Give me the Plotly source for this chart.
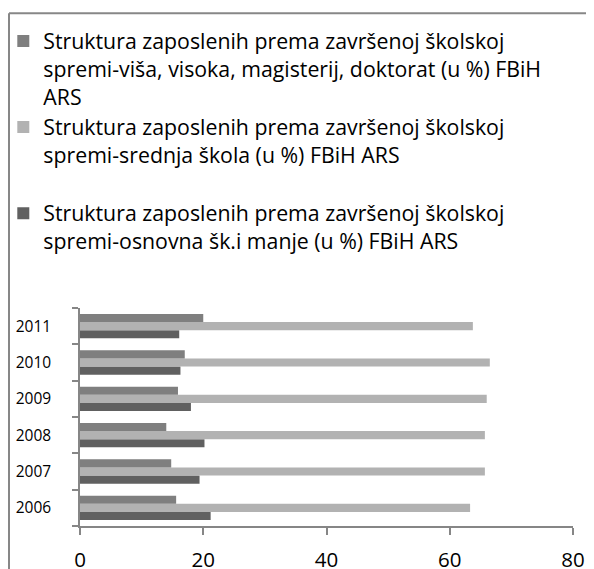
import plotly.graph_objects as go

# Data (share of employees, %)
years = ["2006", "2007", "2008", "2009", "2010", "2011"]
visoka = [15.6, 14.8, 14.0, 15.9, 17.0, 20.0]
srednja = [63.3, 65.7, 65.7, 66.0, 66.5, 63.75]
osnovna = [21.2, 19.4, 20.2, 18.0, 16.3, 16.1]

series_names = [
    "Struktura zaposlenih prema završenoj školskoj<br>spremi-viša, visoka, magisterij, doktorat (u %) FBiH<br>ARS",
    "Struktura zaposlenih prema završenoj školskoj<br>spremi-srednja škola (u %) FBiH ARS<br> ",
    "Struktura zaposlenih prema završenoj školskoj<br>spremi-osnovna šk.i manje (u %) FBiH ARS<br> ",
]
x_ticks = [0, 20, 40, 60, 80]

colors = ["#7f7f7f", "#b2b2b2", "#606060"]
values = [visoka, srednja, osnovna]

fig = go.Figure()

# add in reverse so the first series sits on top of each group
for i in [2, 1, 0]:
    fig.add_trace(go.Bar(
        y=years,
        x=values[i],
        orientation="h",
        name=series_names[i],
        legendgroup=f"g{i}",
        legendrank=i + 1,
        marker=dict(color=colors[i], line=dict(width=0)),
    ))

# the page body adds an 8px margin, so layout is shifted up/left by 8
W, H = 594, 569
ml, mr, mt, mb = 72, 29, 299.5, 51
pw = W - ml - mr
ph = H - mt - mb

fig.update_layout(
    width=W,
    height=H,
    margin=dict(l=ml, r=mr, t=mt, b=mb, pad=0, autoexpand=False),
    barmode="group",
    bargap=0.33,
    bargroupgap=0,
    paper_bgcolor="white",
    plot_bgcolor="white",
    font=dict(family="Open Sans", color="black"),
    legend=dict(
        xref="paper", yref="paper",
        x=(-4.7 - ml) / pw, y=(H - mb - 11.5) / ph,
        xanchor="left", yanchor="top",
        traceorder="grouped",
        tracegroupgap=0,
        valign="top",
        maxheight=600,
        font=dict(size=21.3, family="Open Sans", color="black"),
        bgcolor="rgba(0,0,0,0)",
    ),
    xaxis=dict(
        range=[0, 80],
        tickvals=x_ticks,
        showgrid=False,
        zeroline=False,
        showline=True,
        linecolor="#868686",
        linewidth=1.5,
        ticks="outside",
        ticklen=7,
        tickcolor="#868686",
        tickwidth=1.5,
        tickfont=dict(size=20.5, family="Open Sans", color="black"),
        ticklabelstandoff=8,
    ),
    yaxis=dict(
        type="category",
        showgrid=False,
        zeroline=False,
        showline=True,
        linecolor="#868686",
        linewidth=1.5,
        ticks="outside",
        tickson="boundaries",
        ticklen=6,
        tickcolor="#868686",
        tickwidth=1.5,
        tickfont=dict(size=15.5, family="Open Sans", color="black"),
        ticklabelstandoff=24,
    ),
)

# outer chart-area border: only top and left edges fall inside the picture
bx0 = (1 - ml) / pw
bx1 = (W + 200 - ml) / pw
by0 = -(mb + 200) / ph
by1 = (H - mb - 4) / ph
border = dict(color="#878787", width=2)
fig.add_shape(type="line", xref="paper", yref="paper",
              x0=bx0, x1=bx1, y0=by1, y1=by1, line=border, layer="below")
fig.add_shape(type="line", xref="paper", yref="paper",
              x0=bx0, x1=bx0, y0=by0, y1=by1, line=border, layer="below")

fig.write_html("out.html")
